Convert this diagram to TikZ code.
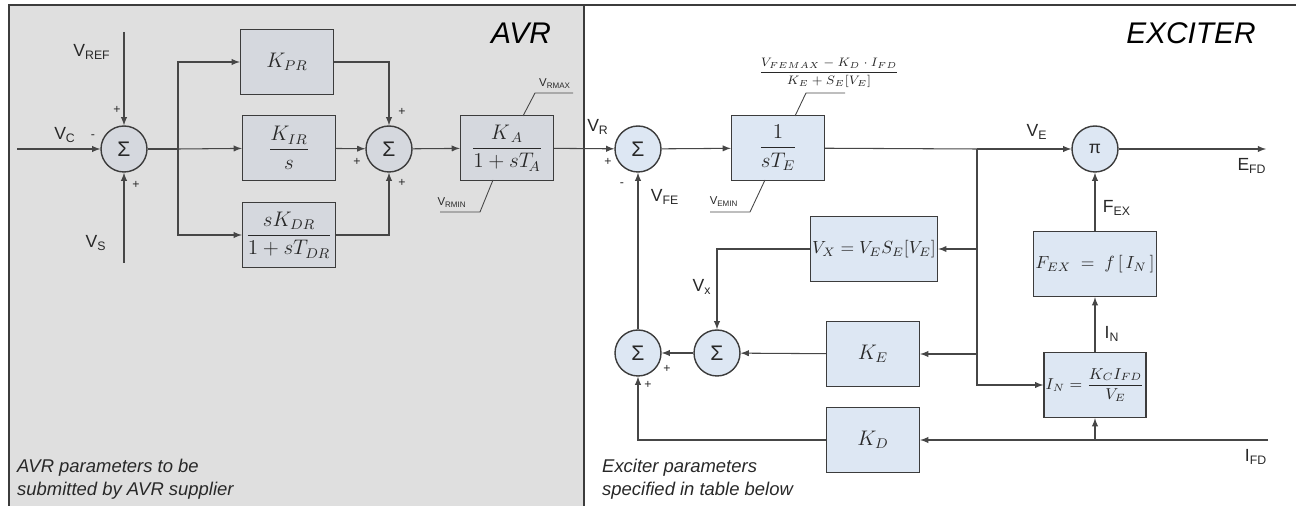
\documentclass[tikz,border=0pt]{standalone}
\usepackage{fontspec}
\setmainfont{Liberation Sans}
\usepackage{amsmath}
\usetikzlibrary{arrows}

\definecolor{avrback}{RGB}{223,223,223}
\definecolor{avrfill}{RGB}{213,216,222}
\definecolor{excfill}{RGB}{221,231,243}
\definecolor{edge}{RGB}{60,60,60}
\definecolor{wire}{RGB}{70,70,70}
\definecolor{ink}{RGB}{40,40,40}

\tikzset{
  blk/.style={draw=edge,line width=0.8pt,minimum width=1.86cm,minimum height=1.3cm,inner sep=1pt,font=\large,text=ink},
  avrblk/.style={blk,fill=avrfill},
  excblk/.style={blk,fill=excfill},
  sumnode/.style={circle,draw=edge,line width=0.8pt,minimum size=0.92cm,inner sep=0pt,font=\large,text=ink},
  sig/.style={->,>=latex,line width=0.6pt,draw=wire},
  wre/.style={line width=0.6pt,draw=wire},
  lbl/.style={text=ink,inner sep=1pt},
  sgn/.style={text=ink,font=\scriptsize,inner sep=0pt},
  lim/.style={text=ink,font=\fontsize{6.5}{7}\selectfont,inner sep=1pt},
  title/.style={text=black,font=\fontsize{17}{20}\selectfont\itshape},
  note/.style={text=ink,font=\fontsize{10.5}{13}\selectfont\itshape,align=left,anchor=west}
}

\begin{document}
\begin{tikzpicture}[x=0.02cm,y=-0.02cm]
        \useasboundingbox (0,0) rectangle (1296,506);
        % panels
        \fill[avrback] (9,5) rectangle (584,506);
        \draw[edge,line width=0.9pt] (1296,5) -- (9,5) -- (9,506);
        \draw[edge,line width=0.9pt] (584,5) -- (584,506);
        \node[title] (tavr) at (521,33) {AVR};
        \node[title] (texc) at (1191,33) {EXCITER};
        \node[note] (navr) at (11,479) {AVR parameters to be\\submitted by AVR supplier};
        \node[note] (nexc) at (596,479) {Exciter parameters\\specified in table below};

        % AVR
        \node[sumnode,fill=avrfill] (s1) at (124,149) {Σ};
        \node[sumnode,fill=avrfill] (s2) at (389,149) {Σ};
        \node[avrblk] (kpr) at (287,62) {$K_{PR}$};
        \node[avrblk] (kir) at (289,148) {$\dfrac{K_{IR}}{s}$};
        \node[avrblk] (kdr) at (289,235) {$\dfrac{sK_{DR}}{1+sT_{DR}}$};
        \node[avrblk] (ka) at (507,148) {$\dfrac{K_{\,A}}{1+sT_{\!A}}$};

        \coordinate (vcin) at (17,149);
        \coordinate (vrefin) at (124,32);
        \coordinate (vsin) at (124,263);
        \coordinate (br1) at (178,149);

        \node[lbl] (lvc) at (65,135) {V\textsubscript{C}};
        \node[lbl] (lvref) at (92,52) {V\textsubscript{REF}};
        \node[lbl] (lvs) at (96,243) {V\textsubscript{S}};
        \node[sgn] at (93,137) {-};
        \node[sgn] at (117,110) {+};
        \node[sgn] at (136,185) {+};
        \node[sgn] at (402,112) {+};
        \node[sgn] at (357,162) {+};
        \node[sgn] at (402,183) {+};

        \node[lim] (vrmax) at (555,84) {V\textsubscript{RMAX}};
        \node[lim] (vrmin) at (452,203) {V\textsubscript{RMIN}};
        \draw[wre,line width=0.5pt] (523,116) -- (535,93) -- (573,93);
        \draw[wre,line width=0.5pt] (493,180) -- (480,212) -- (440,212);

        \draw[sig] (vcin) -- (s1);
        \draw[sig] (vrefin) -- (s1);
        \draw[sig] (vsin) -- (s1);
        \draw[wre] (s1) -- (br1);
        \draw[sig] (br1) |- (kpr);
        \draw[sig] (br1) -- (kir);
        \draw[sig] (br1) |- (kdr);
        \draw[sig] (kpr) -| (s2);
        \draw[sig] (kir) -- (s2);
        \draw[sig] (kdr) -| (s2);
        \draw[sig] (s2) -- (ka);

        % EXCITER
        \node[sumnode,fill=excfill] (s3) at (638,149) {Σ};
        \node[sumnode,fill=excfill] (s4) at (638,353) {Σ};
        \node[sumnode,fill=excfill] (s5) at (717,353) {Σ};
        \node[sumnode,fill=excfill,font=\normalsize] (pi) at (1095,149) {π};
        \node[excblk] (te) at (778,148) {$\dfrac{1}{sT_E}$};
        \node[excblk,minimum width=2.32cm,font=\normalsize] (vx) at (874,249) {$V_X=V_ES_E[V_E]$};
        \node[excblk] (ke) at (873,354) {$K_E$};
        \node[excblk] (kd) at (873,440) {$K_D$};
        \node[excblk,minimum width=2.32cm,font=\normalsize] (fex) at (1095,264) {$F_{EX}\;=\;f\,[\,I_N\,]$};
        \node[excblk,font=\small] (in) at (1095,385) {$I_N=\dfrac{K_CI_{FD}}{V_E}$};

        \coordinate (br2) at (977,149);
        \coordinate (br3) at (1095,440);
        \coordinate (efd) at (1266,149);
        \coordinate (ifd) at (1268,440);

        \node[lbl] (lvr) at (598,127) {V\textsubscript{R}};
        \node[lbl] (lvfe) at (665,197) {V\textsubscript{FE}};
        \node[lbl] (lve) at (1037,132) {V\textsubscript{E}};
        \node[lbl] (lefd) at (1252,166) {E\textsubscript{FD}};
        \node[lbl] (lfex) at (1117,208) {F\textsubscript{EX}};
        \node[lbl] (lvx) at (702,287) {V\textsubscript{x}};
        \node[lbl] (lin) at (1112,334) {I\textsubscript{N}};
        \node[lbl] (lifd) at (1256,457) {I\textsubscript{FD}};
        \node[sgn] at (608,162) {+};
        \node[sgn] at (622,185) {-};
        \node[sgn] at (667,369) {+};
        \node[sgn] at (648,385) {+};

        \node[lim,font=\fontsize{7.5}{8}\selectfont] (velim) at (829,73) {$\dfrac{V_{FEMAX}-K_D\cdot I_{FD}}{K_E+S_E[V_E]}$};
        \node[lim] (vemin) at (724,202) {V\textsubscript{EMIN}};
        \draw[wre,line width=0.5pt] (795,116) -- (806,93) -- (845,93);
        \draw[wre,line width=0.5pt] (765,180) -- (750,212) -- (710,212);

        \draw[sig] (ka) -- (s3);
        \draw[sig] (s3) -- (te);
        \draw[wre] (te) -- (br2);
        \draw[sig] (br2) -- (pi);
        \draw[sig] (pi) -- (efd);
        \draw[sig] (br2) |- (vx);
        \draw[sig] (br2) |- (ke);
        \draw[sig] (br2) |- (in);
        \draw[sig] (vx) -| (s5);
        \draw[sig] (ke) -- (s5);
        \draw[sig] (s5) -- (s4);
        \draw[sig] (s4) -- (s3);
        \draw[sig] (ifd) -- (kd);
        \draw[sig] (br3) -- (in);
        \draw[sig] (kd) -| (s4);
        \draw[sig] (in) -- (fex);
        \draw[sig] (fex) -- (pi);
\end{tikzpicture}
\end{document}
